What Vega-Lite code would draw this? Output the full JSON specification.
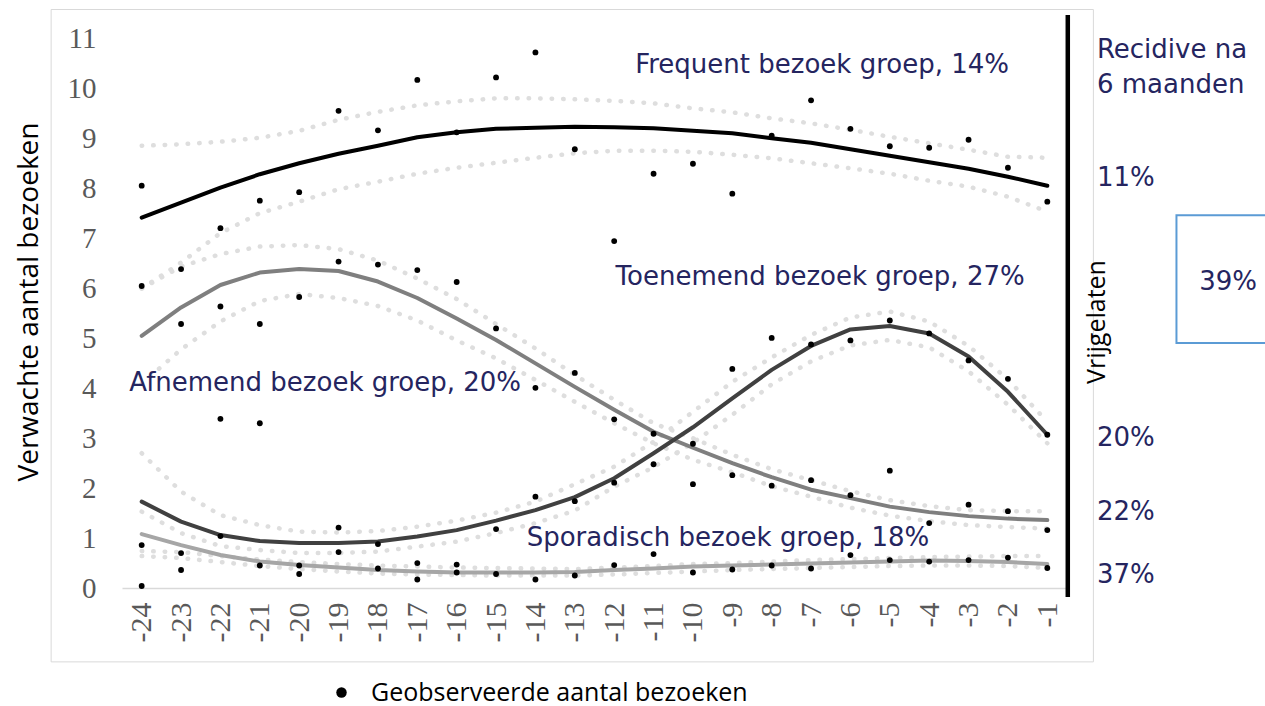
{
  "$schema": "https://vega.github.io/schema/vega-lite/v6.json",
  "width": 945,
  "height": 573,
  "autosize": {"type": "none"},
  "padding": {"left": 122, "top": 15, "right": 198, "bottom": 118},
  "background": "white",
  "config": {"view": {"stroke": null}},
  "datasets": {
    "curves": [
      {"t":-24,"g":"F","fit":7.42,"up":8.86,"lo":6.00},{"t":-23,"g":"F","fit":7.72,"up":8.89,"lo":6.52},{"t":-22,"g":"F","fit":8.02,"up":8.94,"lo":7.11},{"t":-21,"g":"F","fit":8.29,"up":9.02,"lo":7.51},{"t":-20,"g":"F","fit":8.51,"up":9.16,"lo":7.74},{"t":-19,"g":"F","fit":8.70,"up":9.38,"lo":7.99},{"t":-18,"g":"F","fit":8.86,"up":9.54,"lo":8.14},{"t":-17,"g":"F","fit":9.03,"up":9.67,"lo":8.30},{"t":-16,"g":"F","fit":9.13,"up":9.75,"lo":8.42},{"t":-15,"g":"F","fit":9.20,"up":9.81,"lo":8.52},{"t":-14,"g":"F","fit":9.22,"up":9.81,"lo":8.62},{"t":-13,"g":"F","fit":9.24,"up":9.79,"lo":8.71},{"t":-12,"g":"F","fit":9.23,"up":9.76,"lo":8.76},{"t":-11,"g":"F","fit":9.21,"up":9.71,"lo":8.76},{"t":-10,"g":"F","fit":9.16,"up":9.61,"lo":8.74},{"t":-9,"g":"F","fit":9.11,"up":9.53,"lo":8.68},{"t":-8,"g":"F","fit":9.01,"up":9.41,"lo":8.61},{"t":-7,"g":"F","fit":8.92,"up":9.31,"lo":8.51},{"t":-6,"g":"F","fit":8.79,"up":9.18,"lo":8.41},{"t":-5,"g":"F","fit":8.66,"up":9.04,"lo":8.30},{"t":-4,"g":"F","fit":8.53,"up":8.91,"lo":8.16},{"t":-3,"g":"F","fit":8.40,"up":8.78,"lo":8.04},{"t":-2,"g":"F","fit":8.24,"up":8.64,"lo":7.84},{"t":-1,"g":"F","fit":8.06,"up":8.62,"lo":7.54},
      {"t":-24,"g":"A","fit":5.05,"up":6.00,"lo":4.09},{"t":-23,"g":"A","fit":5.62,"up":6.44,"lo":4.78},{"t":-22,"g":"A","fit":6.07,"up":6.69,"lo":5.34},{"t":-21,"g":"A","fit":6.32,"up":6.84,"lo":5.75},{"t":-20,"g":"A","fit":6.39,"up":6.87,"lo":5.89},{"t":-19,"g":"A","fit":6.35,"up":6.79,"lo":5.81},{"t":-18,"g":"A","fit":6.14,"up":6.56,"lo":5.65},{"t":-17,"g":"A","fit":5.81,"up":6.20,"lo":5.36},{"t":-16,"g":"A","fit":5.40,"up":5.79,"lo":4.96},{"t":-15,"g":"A","fit":4.97,"up":5.29,"lo":4.60},{"t":-14,"g":"A","fit":4.50,"up":4.80,"lo":4.17},{"t":-13,"g":"A","fit":4.03,"up":4.27,"lo":3.73},{"t":-12,"g":"A","fit":3.57,"up":3.77,"lo":3.30},{"t":-11,"g":"A","fit":3.13,"up":3.30,"lo":2.90},{"t":-10,"g":"A","fit":2.81,"up":3.00,"lo":2.57},{"t":-9,"g":"A","fit":2.50,"up":2.67,"lo":2.32},{"t":-8,"g":"A","fit":2.22,"up":2.38,"lo":2.04},{"t":-7,"g":"A","fit":1.97,"up":2.16,"lo":1.83},{"t":-6,"g":"A","fit":1.80,"up":1.94,"lo":1.61},{"t":-5,"g":"A","fit":1.63,"up":1.76,"lo":1.45},{"t":-4,"g":"A","fit":1.52,"up":1.64,"lo":1.34},{"t":-3,"g":"A","fit":1.44,"up":1.56,"lo":1.26},{"t":-2,"g":"A","fit":1.39,"up":1.54,"lo":1.22},{"t":-1,"g":"A","fit":1.36,"up":1.54,"lo":1.19},
      {"t":-24,"g":"T","fit":1.73,"up":2.70,"lo":1.53},{"t":-23,"g":"T","fit":1.33,"up":1.93,"lo":1.10},{"t":-22,"g":"T","fit":1.06,"up":1.46,"lo":0.84},{"t":-21,"g":"T","fit":0.94,"up":1.26,"lo":0.76},{"t":-20,"g":"T","fit":0.90,"up":1.13,"lo":0.70},{"t":-19,"g":"T","fit":0.90,"up":1.11,"lo":0.70},{"t":-18,"g":"T","fit":0.93,"up":1.14,"lo":0.73},{"t":-17,"g":"T","fit":1.03,"up":1.23,"lo":0.83},{"t":-16,"g":"T","fit":1.16,"up":1.35,"lo":0.93},{"t":-15,"g":"T","fit":1.35,"up":1.51,"lo":1.10},{"t":-14,"g":"T","fit":1.56,"up":1.73,"lo":1.30},{"t":-13,"g":"T","fit":1.82,"up":2.08,"lo":1.55},{"t":-12,"g":"T","fit":2.20,"up":2.43,"lo":2.03},{"t":-11,"g":"T","fit":2.70,"up":2.93,"lo":2.42},{"t":-10,"g":"T","fit":3.22,"up":3.53,"lo":2.91},{"t":-9,"g":"T","fit":3.80,"up":4.13,"lo":3.47},{"t":-8,"g":"T","fit":4.37,"up":4.62,"lo":4.08},{"t":-7,"g":"T","fit":4.85,"up":5.07,"lo":4.54},{"t":-6,"g":"T","fit":5.18,"up":5.42,"lo":4.86},{"t":-5,"g":"T","fit":5.25,"up":5.54,"lo":4.97},{"t":-4,"g":"T","fit":5.10,"up":5.34,"lo":4.82},{"t":-3,"g":"T","fit":4.64,"up":4.85,"lo":4.34},{"t":-2,"g":"T","fit":3.93,"up":4.18,"lo":3.67},{"t":-1,"g":"T","fit":3.07,"up":3.33,"lo":2.90},
      {"t":-24,"g":"S","fit":1.08,"up":0.74,"lo":0.64},{"t":-23,"g":"S","fit":0.86,"up":0.72,"lo":0.60},{"t":-22,"g":"S","fit":0.66,"up":0.64,"lo":0.52},{"t":-21,"g":"S","fit":0.53,"up":0.57,"lo":0.44},{"t":-20,"g":"S","fit":0.46,"up":0.52,"lo":0.38},{"t":-19,"g":"S","fit":0.41,"up":0.48,"lo":0.33},{"t":-18,"g":"S","fit":0.36,"up":0.45,"lo":0.29},{"t":-17,"g":"S","fit":0.33,"up":0.43,"lo":0.27},{"t":-16,"g":"S","fit":0.31,"up":0.41,"lo":0.26},{"t":-15,"g":"S","fit":0.31,"up":0.40,"lo":0.25},{"t":-14,"g":"S","fit":0.31,"up":0.39,"lo":0.25},{"t":-13,"g":"S","fit":0.32,"up":0.38,"lo":0.25},{"t":-12,"g":"S","fit":0.36,"up":0.41,"lo":0.27},{"t":-11,"g":"S","fit":0.39,"up":0.44,"lo":0.30},{"t":-10,"g":"S","fit":0.43,"up":0.48,"lo":0.33},{"t":-9,"g":"S","fit":0.45,"up":0.50,"lo":0.36},{"t":-8,"g":"S","fit":0.47,"up":0.53,"lo":0.38},{"t":-7,"g":"S","fit":0.49,"up":0.56,"lo":0.40},{"t":-6,"g":"S","fit":0.51,"up":0.58,"lo":0.42},{"t":-5,"g":"S","fit":0.53,"up":0.60,"lo":0.44},{"t":-4,"g":"S","fit":0.55,"up":0.62,"lo":0.45},{"t":-3,"g":"S","fit":0.54,"up":0.63,"lo":0.45},{"t":-2,"g":"S","fit":0.52,"up":0.64,"lo":0.44},{"t":-1,"g":"S","fit":0.48,"up":0.64,"lo":0.40}
    ],
    "obs": [
      {"t":-24,"v":8.06},{"t":-24,"v":6.05},{"t":-24,"v":0.86},{"t":-24,"v":0.04},
      {"t":-23,"v":6.39},{"t":-23,"v":5.29},{"t":-23,"v":0.70},{"t":-23,"v":0.36},
      {"t":-22,"v":7.21},{"t":-22,"v":5.64},{"t":-22,"v":3.39},{"t":-22,"v":1.04},
      {"t":-21,"v":7.76},{"t":-21,"v":5.29},{"t":-21,"v":3.30},{"t":-21,"v":0.45},
      {"t":-20,"v":7.93},{"t":-20,"v":5.83},{"t":-20,"v":0.45},{"t":-20,"v":0.28},
      {"t":-19,"v":9.56},{"t":-19,"v":6.54},{"t":-19,"v":1.21},{"t":-19,"v":0.72},
      {"t":-18,"v":9.17},{"t":-18,"v":6.48},{"t":-18,"v":0.88},{"t":-18,"v":0.39},
      {"t":-17,"v":10.18},{"t":-17,"v":6.37},{"t":-17,"v":0.50},{"t":-17,"v":0.17},
      {"t":-16,"v":9.13},{"t":-16,"v":6.13},{"t":-16,"v":0.47},{"t":-16,"v":0.31},
      {"t":-15,"v":10.23},{"t":-15,"v":5.20},{"t":-15,"v":1.18},{"t":-15,"v":0.28},
      {"t":-14,"v":10.73},{"t":-14,"v":4.01},{"t":-14,"v":1.83},{"t":-14,"v":0.17},
      {"t":-13,"v":8.79},{"t":-13,"v":4.31},{"t":-13,"v":1.74},{"t":-13,"v":0.25},
      {"t":-12,"v":6.95},{"t":-12,"v":3.38},{"t":-12,"v":2.11},{"t":-12,"v":0.46},
      {"t":-11,"v":8.30},{"t":-11,"v":3.09},{"t":-11,"v":2.48},{"t":-11,"v":0.68},
      {"t":-10,"v":8.50},{"t":-10,"v":2.89},{"t":-10,"v":2.08},{"t":-10,"v":0.31},
      {"t":-9,"v":7.90},{"t":-9,"v":4.39},{"t":-9,"v":2.26},{"t":-9,"v":0.37},
      {"t":-8,"v":9.06},{"t":-8,"v":5.01},{"t":-8,"v":2.05},{"t":-8,"v":0.45},
      {"t":-7,"v":9.77},{"t":-7,"v":4.88},{"t":-7,"v":2.16},{"t":-7,"v":0.39},
      {"t":-6,"v":9.20},{"t":-6,"v":4.96},{"t":-6,"v":1.86},{"t":-6,"v":0.66},
      {"t":-5,"v":8.85},{"t":-5,"v":5.36},{"t":-5,"v":2.35},{"t":-5,"v":0.56},
      {"t":-4,"v":8.82},{"t":-4,"v":5.10},{"t":-4,"v":1.30},{"t":-4,"v":0.53},
      {"t":-3,"v":8.98},{"t":-3,"v":4.56},{"t":-3,"v":1.67},{"t":-3,"v":0.56},
      {"t":-2,"v":8.42},{"t":-2,"v":4.19},{"t":-2,"v":1.54},{"t":-2,"v":0.61},
      {"t":-1,"v":7.74},{"t":-1,"v":3.07},{"t":-1,"v":1.16},{"t":-1,"v":0.40}
    ],
    "grouplabels": [
      {"t":-6.72,"v":10.48,"txt":"Frequent bezoek groep, 14%"},
      {"t":-6.77,"v":6.23,"txt":"Toenemend bezoek groep, 27%"},
      {"t":-19.34,"v":4.11,"txt":"Afnemend bezoek groep, 20%"},
      {"t":-9.11,"v":1.0,"txt":"Sporadisch bezoek groep, 18%"}
    ],
    "rightlabels": [
      {"t":0.26,"v":10.78,"txt":"Recidive na"},
      {"t":0.26,"v":10.08,"txt":"6 maanden"},
      {"t":0.26,"v":8.22,"txt":"11%"},
      {"t":0.26,"v":3.01,"txt":"20%"},
      {"t":0.26,"v":1.52,"txt":"22%"},
      {"t":0.26,"v":0.26,"txt":"37%"}
    ],
    "one": [{"k": 1}]
  },
  "layer": [
    {
      "data": {"name": "one"},
      "mark": {"type": "rect", "fillOpacity": 0, "stroke": "#d9d9d9", "strokeWidth": 1},
      "encoding": {
        "x": {"datum": -26.3, "type": "quantitative"}, "x2": {"datum": 0.17},
        "y": {"datum": 11.59, "type": "quantitative"}, "y2": {"datum": -1.48}
      }
    },
    {
      "encoding": {
        "x": {
          "field": "t", "type": "quantitative",
          "scale": {"domain": [-24.5, -0.5], "nice": false, "zero": false},
          "axis": {
            "values": [-24,-23,-22,-21,-20,-19,-18,-17,-16,-15,-14,-13,-12,-11,-10,-9,-8,-7,-6,-5,-4,-3,-2,-1],
            "labelExpr": "'' + datum.value",
            "labelAngle": -90, "labelAlign": "right", "labelBaseline": "middle",
            "labelFlush": false, "labelOverlap": false,
            "ticks": false, "grid": false,
            "domainColor": "#d9d9d9", "domainWidth": 1.5,
            "labelFont": "Liberation Serif", "labelFontSize": 30, "labelColor": "#595959",
            "labelPadding": 14, "title": null
          }
        },
        "y": {
          "field": "v", "type": "quantitative",
          "scale": {"domain": [0, 11.48], "nice": false, "zero": false},
          "axis": {
            "values": [0,1,2,3,4,5,6,7,8,9,10,11],
            "ticks": false, "grid": false, "domain": false,
            "labelFont": "Liberation Serif", "labelFontSize": 29, "labelColor": "#595959",
            "labelPadding": 26, "labelOverlap": false,
            "title": "Verwachte aantal bezoeken",
            "titleFont": "Open Sans", "titleFontSize": 28, "titleFontWeight": "normal",
            "titleColor": "#000000", "titlePadding": 24
          }
        }
      },
      "layer": [
        {
          "data": {"name": "curves"},
          "transform": [{"fold": ["up", "lo"], "as": ["k", "v"]}],
          "mark": {"type": "line", "strokeDash": [0.5, 11], "strokeCap": "round", "strokeWidth": 4.5, "color": "#dedede"},
          "encoding": {"detail": [{"field": "g"}, {"field": "k"}]}
        },
        {
          "data": {"name": "curves"},
          "transform": [{"fold": ["fit"], "as": ["k", "v"]}],
          "mark": {"type": "line", "strokeWidth": 4, "strokeCap": "round", "strokeJoin": "round"},
          "encoding": {
            "stroke": {
              "field": "g", "type": "nominal",
              "scale": {"domain": ["F", "A", "T", "S"], "range": ["#000000", "#7f7f7f", "#404040", "#a6a6a6"]},
              "legend": null
            }
          }
        },
        {
          "data": {"name": "obs"},
          "mark": {"type": "circle", "size": 34, "opacity": 1},
          "encoding": {
            "color": {
              "datum": "Geobserveerde aantal bezoeken", "type": "nominal",
              "scale": {"range": ["#000000"]},
              "legend": {
                "orient": "none", "legendX": 207, "legendY": 665, "title": null,
                "symbolType": "circle", "symbolSize": 110, "symbolFillColor": "#000000", "symbolStrokeWidth": 0,
                "labelFont": "Open Sans", "labelFontSize": 25, "labelColor": "#000000", "labelOffset": 17, "labelLimit": 600
              }
            }
          }
        },
        {
          "data": {"name": "grouplabels"},
          "mark": {"type": "text", "font": "DejaVu Sans", "fontSize": 26, "fill": "#25255f", "align": "center", "baseline": "middle"},
          "encoding": {"text": {"field": "txt"}}
        },
        {
          "data": {"name": "rightlabels"},
          "mark": {"type": "text", "font": "DejaVu Sans", "fontSize": 26, "fill": "#25255f", "align": "left", "baseline": "middle"},
          "encoding": {"text": {"field": "txt"}}
        }
      ]
    },
    {
      "data": {"name": "one"},
      "mark": {"type": "rule", "stroke": "#000000", "strokeWidth": 4.5},
      "encoding": {"x": {"datum": -0.48, "type": "quantitative"}, "y": {"datum": 11.48, "type": "quantitative"}, "y2": {"datum": -0.18}}
    },
    {
      "data": {"name": "one"},
      "mark": {"type": "rect", "fillOpacity": 0, "stroke": "#5b9bd5", "strokeWidth": 2},
      "encoding": {
        "x": {"datum": 2.28, "type": "quantitative"}, "x2": {"datum": 4.9},
        "y": {"datum": 7.47, "type": "quantitative"}, "y2": {"datum": 4.91}
      }
    },
    {
      "data": {"name": "one"},
      "mark": {"type": "text", "text": "39%", "font": "DejaVu Sans", "fontSize": 26, "fill": "#25255f", "align": "center", "baseline": "middle"},
      "encoding": {"x": {"datum": 3.59, "type": "quantitative"}, "y": {"datum": 6.13, "type": "quantitative"}}
    },
    {
      "data": {"name": "one"},
      "mark": {"type": "text", "text": "Vrijgelaten", "font": "Open Sans", "fontSize": 25, "fill": "#000000", "align": "center", "baseline": "middle", "angle": 270},
      "encoding": {"x": {"datum": 0.26, "type": "quantitative"}, "y": {"datum": 5.33, "type": "quantitative"}}
    }
  ]
}
